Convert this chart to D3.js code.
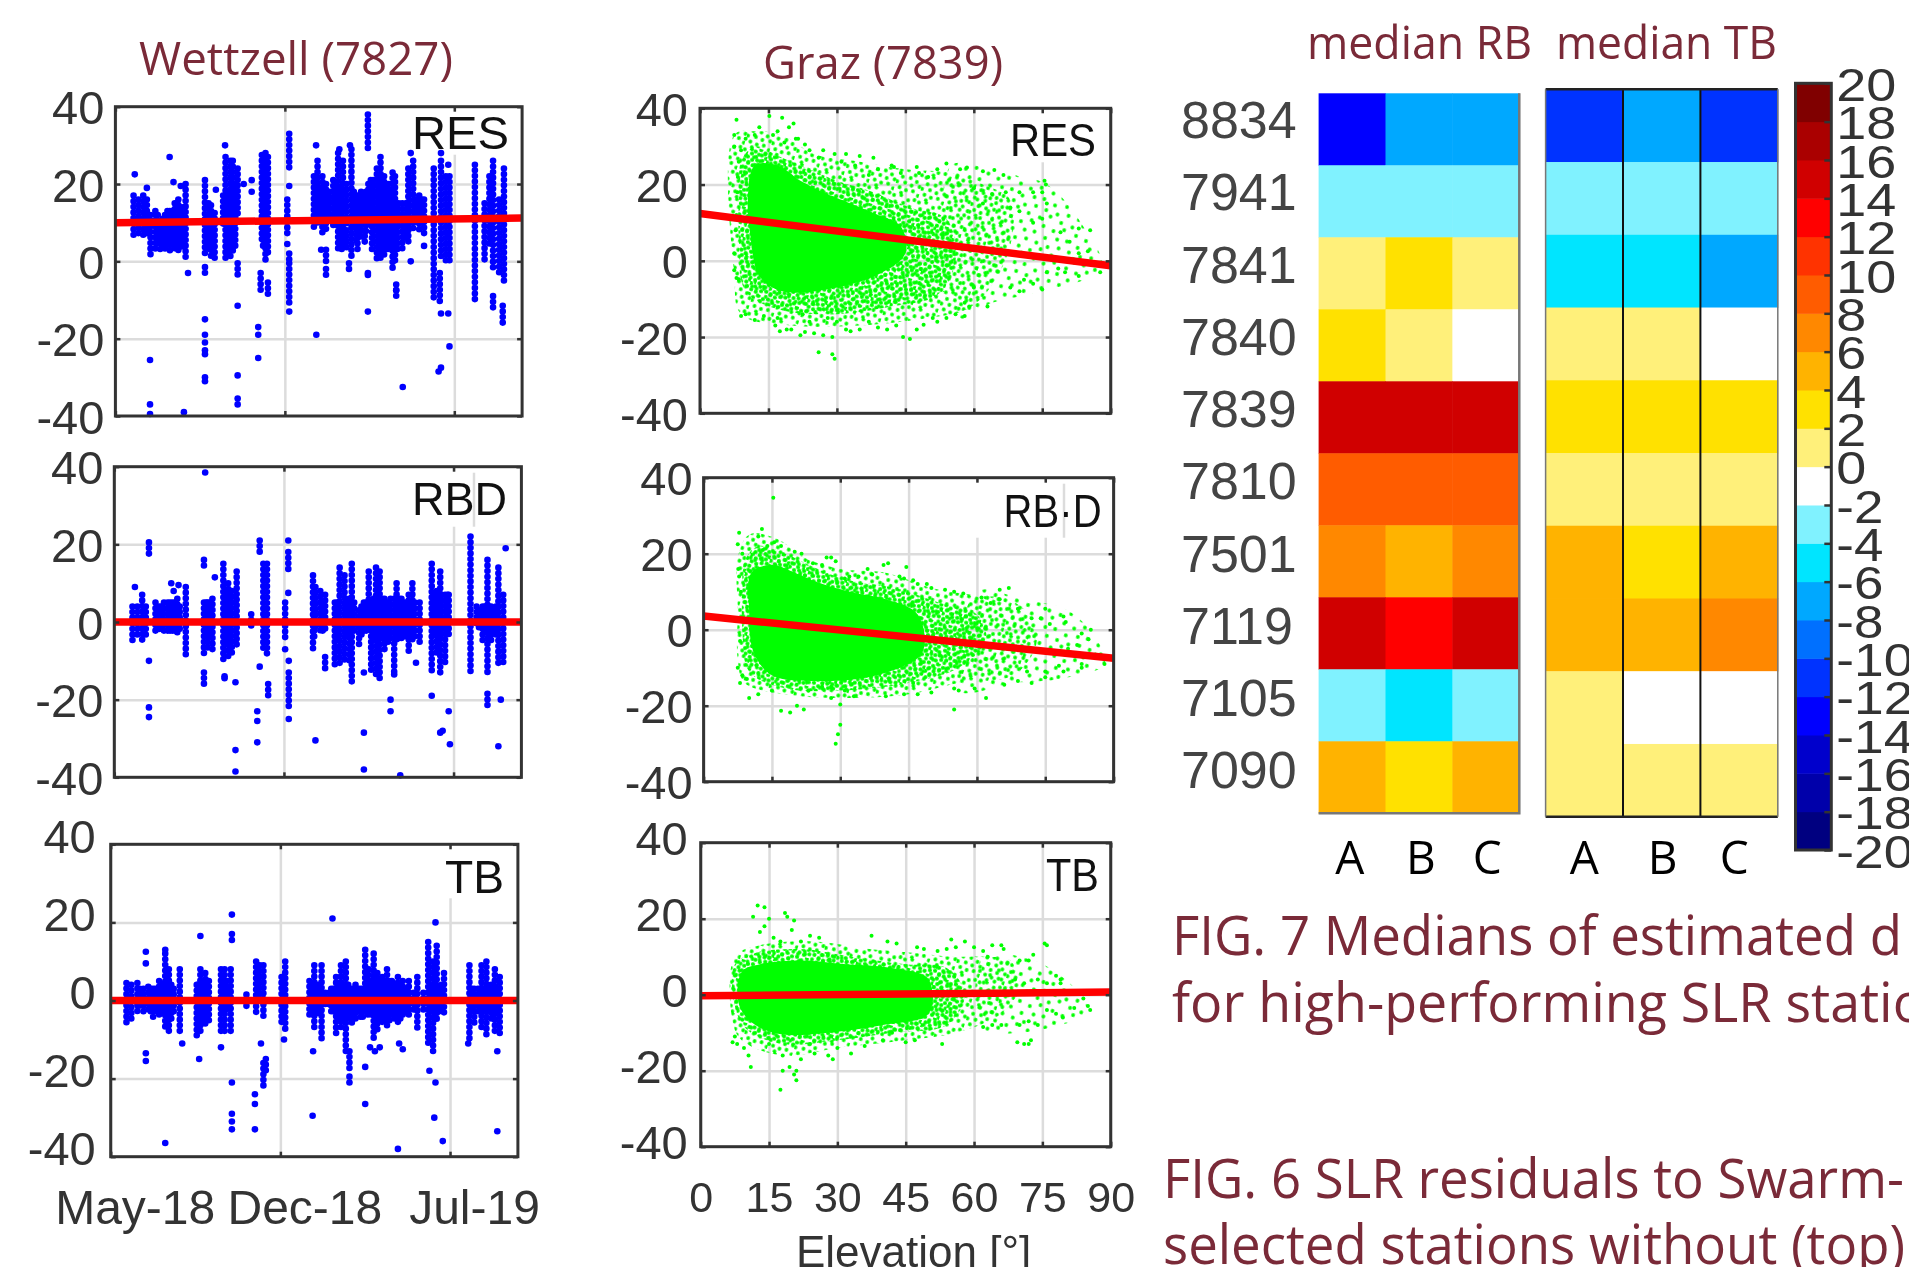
<!DOCTYPE html>
<html>
<head>
<meta charset="utf-8">
<script src="https://cdn.jsdelivr.net/npm/d3@7"></script>
<style>
  html, body { margin: 0; padding: 0; background: #fff; overflow: hidden; }
  svg { display: block; filter: blur(0.5px); }
</style>
</head>
<body>
<div id="chart"></div>
<script>
// values
const yTicks = [40, 20, 0, -20, -40];
const monthTicks = [0, 7, 14];
const monthLabels = ["May-18", "Dec-18", "Jul-19"];
const elevationTicks = [0, 15, 30, 45, 60, 75, 90];

// [month since May-18, low, high] columns of overlapping dots
const wettzellResStrands = [
  [0.75,6,17],[0.95,7,16],[1.15,6,17],[1.3,6,16],[1.45,1.5,12],[1.65,3,12],[1.85,3,9],[2.05,2,12],[2.25,2.5,13],
  [2.45,3,15],[2.6,2.5,16],[2.9,0,20],[3.0,-4,-3],[3.7,-4,-1.5],[3.7,2,21],[3.85,2,15],[3.95,0.5,14.5],[4.1,0.5,12.5],
  [4.45,9,17],[4.55,0.5,27],[4.75,1,26],[4.85,2,26],[5.05,11,24],[5.05,-4,-0.5],[6,-8,-3],[6.05,5,27.5],
  [6.2,0,28],[6.3,-9.5,-5.5],[6.3,1,27],[7.1,7,16],[7.18,24,33],[7.18,0,2],[7.18,-11,-0.5],[8.2,8,22],[8.35,9,26],
  [8.55,7,22],[8.7,7,20],[8.5,2,3],[8.7,-3.5,-2],[8.7,0,3],[9.0,8,21],[9.2,3,28],[9.4,4,26],[9.65,-2,-0.5],[9.75,1,29],
  [9.95,4,17],[10.15,5,18],[10.35,7,18],[10.43,29,38],[10.43,-4,-3],[10.55,8,21],[10.8,0,24],[10.95,0,27],[11.1,3,22],
  [11.3,3,20],[11.45,-2,23],[11.6,-9,-6],[11.55,0,22],[11.85,3,15],[12.2,-1,0],[12.1,5,24],[12.3,8,26],[12.55,8,17],
  [12.75,3,4],[12.75,6,16],[13.15,-10,24],[13.4,-11,-3],[13.45,0,26],[13.65,0,22],[13.8,-1,22],[14.85,-11,25],
  [15.25,0,15],[15.45,4,22],[15.6,-13,-9],[15.6,-2,26],[15.85,-4,16],[16.05,-5,24],[16.0,-17,-11.5],
  [1.75,4,12],[1.95,3,11],[2.15,3,13],[2.35,3,13],[2.55,3,15],[2.75,3,14],[3.8,4,12],[4.0,3,10],[4.65,2,18],[4.95,4,20],[6.1,3,20],
  [8.45,10,19],[8.85,10,18],[9.1,9,20],[9.3,9,19],[9.55,9,20],[9.85,9,18],[10.05,9,17],[10.25,9,17],[10.45,9,20],[10.65,9,21],
  [10.9,9,22],[11.2,9,20],[11.4,9,18],[11.7,9,15],[12,9,15],[12.4,10,16],[12.65,9,16],[10.0,3,9],[10.3,4,8],[10.9,1,9],[11.1,1,9],
  [9.35,3,9],[9.55,3,8],[10.6,2,9],[11.25,3,9],[11.65,2,9],[12.0,5,9]
];
const wettzellResPoints = [
  [1.43,-25.5],[1.43,-37],[1.43,-39.5],[2.83,-39],[3.7,-15],[3.7,-19],[3.7,-21],[3.7,-23],[3.7,-24],[3.7,-30],[3.7,-31],
  [5.05,-11.5],[5.05,-29.5],[5.05,-35.5],[5.05,-37],[5.9,-17],[5.9,-19],[5.9,-25],[8.3,-19],[11.87,-32.5],[13.45,-13.5],
  [13.75,-13.5],[13.8,-22],[13.45,-27.5],[13.35,-28.5],[2.24,27],[0.8,22.5],[5.63,21],[5.63,18],[1.65,13],[1.3,19],[4.53,30],
  [7.18,19.5],[7.1,4.5],[7.18,-13],[8.29,30],[10.43,-3.5],[10.43,-13],[12.2,28],[13.45,28],[13.75,25],[9.25,29],[9.69,30],[2.4,20.5],[2.7,19.5],[4.15,18.5],[5.3,20],[11.6,-7.5]
];
const wettzellRbdStrands = [
  [0.75,-6,4],[0.95,-4,4],[1.15,-5,7],[1.3,-4,4],[1.7,-3,5],[1.95,-3,4],[2.2,-3,5],[2.4,-3,5],[2.6,-3,6],[2.95,-9,9],
  [3.7,-9,5],[3.85,-7,5],[4.05,-7,6],[4.5,-10,15],[4.7,-9,10],[4.85,-8,8],[5.05,-6,13],[5.65,-2,2],[6.0,17,21],
  [6.15,-8,15],[6.3,-9,15],[6.35,-20,-16],[7.18,12.5,18],[7.05,0,5],[7.05,-5,-1],[7.2,-22,-13],[8.2,-7,12],[8.3,-2,9],
  [8.5,-3,8],[8.7,-13,-9],[8.7,-3,7],[9.1,-11,5],[9.3,-11,14],[9.5,-11,12],[9.8,-16,15],[9.7,-11,6],[10.1,-6,3],
  [10.3,-3,5],[10.5,-2,13],[10.6,-13,5],[10.8,-14,14],[10.95,-15,13],[11.15,-7,6],[11.3,-6,5],[11.55,-13,6],[11.65,-5,10],
  [11.95,-4,5],[12.15,-8,7],[12.3,-5,10],[12.6,-6,5],[13.1,-13,15],[13.3,-8,8],[13.45,-14,13],[13.65,-11,7],[13.8,-4,7],
  [14.7,-14,22],[14.95,-1,4],[15.2,-5,4],[15.4,-13,16],[15.55,-5,4],[15.85,-11,14],[16.05,-11,7],[15.4,-22,-18.5],
  [1.43,17,20.5],[3.7,14,16],[3.7,-16,-13],
  [1.85,-3,4],[2.05,-3,5],[2.3,-3,5],[2.5,-3,5],[2.7,-2,4],[3.8,-5,5],[3.95,-5,5],[4.6,-5,8],[8.25,-4,5],[8.6,-3,5],[9.2,-4,5],
  [9.6,-4,5],[9.9,-3,5],[10.2,-4,4],[10.4,-3,5],[10.7,-5,6],[10.9,-5,6],[11.05,-5,6],[11.2,-5,5],[11.4,-5,6],[11.6,-5,6],[11.75,-5,6],
  [11.85,-5,6],[12.05,-5,5],[12.25,-4,5],[12.4,-4,5],[13.2,-4,7],[13.5,-4,7],[13.75,-4,7],[15.05,-2,3],[15.3,-3,4],[15.65,-4,3],[15.75,-4,4]
];
const wettzellRbdPoints = [
  [3.75,38.5],[1.43,-10],[1.43,-22],[1.43,-24.5],[0.85,9],[4.55,-14.5],[4.55,-14],[5,-15.5],[5,-33],[5,-38.5],[5.9,-23],
  [5.9,-25.5],[5.9,-31],[6.0,-11.5],[8.3,-30.5],[7.2,-10],[7.2,-25],[7.05,-7],[7.18,21],[7.18,7.5],[10.3,-28.5],[10.3,-38],
  [11.4,-20],[11.4,-23],[11.8,-39.5],[11.55,-13.5],[13.1,-19],[13.45,-28.5],[13.55,-28],[13.8,-23],[13.85,-31.5],
  [15.95,-20],[15.85,-32],[16.15,19],[10.3,-13],[12.45,-10.5],[2.35,10],[2.45,8],[2.65,9.5],[4.15,11.5]
];
const wettzellTbStrands = [
  [0.65,-6,4.5],[0.85,-5,4],[1.1,-4,4.5],[1.55,-3,3.5],[1.75,-5,3],[2.0,-5,5],[2.25,-7,12],[2.4,-8,8],[2.5,-6,4],
  [2.85,-9,8],[2.95,-12,-11],[3.55,-9,4],[3.7,-8,8],[3.9,-7,7],[4.05,-6,5],[4.55,-8,8],[4.7,-8,8],[4.95,-9,8],
  [4.55,-13,-12],[5.6,-1.5,1.5],[6,-4,10],[6.15,-1,9],[6.3,-5,9],[6.2,-12,-11],[6.4,-19,-15],[6.3,-22,-16],[7.05,-6,6],
  [7.2,-8,10],[7.15,-11,-10],[8.2,-5,5],[8.4,-8,9],[8.7,-10,9],[9.1,-3,3],[9.3,-9,6],[9.5,-8,9],[9.7,-13,10],
  [9.85,-18,-13],[10.1,-6,4],[10.3,-5,3],[10.5,-4,13],[10.65,-4,8],[10.85,-10,12],[11.0,-8,7],[11.2,-6,6],[11.4,-7,8],
  [11.6,-5,5],[11.85,-6,6],[12.05,-5,5],[12.3,-5,5],[12.65,-8,6],[13.1,-12,15],[13.3,-14,10],[13.45,-6,14],[13.75,-4,7],
  [14.8,-11,9],[15,-6,3],[15.3,-7,9],[15.5,-10,10],[15.7,-5,4],[15.85,-8,8],[16.05,-9,6],
  [1.2,-2,3],[1.35,-3,3],[1.65,-3,3],[1.85,-3,3],[2.1,-4,4],[2.35,-4,4],[2.6,-4,3],[3.6,-5,4],[3.8,-6,5],[4.0,-5,5],[4.6,-3,6],[4.8,-3,5],
  [8.3,-4,4],[8.55,-4,4],[8.85,-2,2],[9.0,-2,2],[9.2,-4,3],[9.4,-5,4],[9.6,-5,4],[9.8,-6,4],[9.95,-6,3],[10.2,-4,3],[10.4,-5,3],[10.6,-5,5],
  [10.75,-5,5],[10.95,-6,6],[11.1,-6,5],[11.3,-6,5],[11.5,-6,5],[11.7,-5,4],[11.95,-5,4],[12.15,-4,3],[12.5,-3,2],[12.9,-3,2],[13.2,-4,3],
  [13.55,-4,3],[13.65,-3,4],[14.9,-4,3],[15.15,-4,3],[15.4,-4,3],[15.6,-4,3],[15.75,-4,3],[15.95,-4,3]
];
const wettzellTbPoints = [
  [1.45,12.5],[1.45,9.5],[1.45,-13.5],[1.45,-15.5],[2.25,13],[2.25,-36.5],[3.7,16.5],[3.65,-15],[5,22],[5,15.5],[5,17],
  [5,-21],[5,-29],[5,-31],[5,-33],[5.95,-24],[5.95,-26.5],[5.95,-33],[8.33,-29.5],[8.35,-13],[9.15,21],[9.85,-19.5],
  [9.85,-21],[10.5,-17],[10.5,-26.5],[11.85,-38],[13.15,-18],[13.4,-21],[13.35,-30],[13.4,20],[13.7,-36],[15.95,-33.5],
  [15.95,-13],[14.75,-11],[10.9,-13],[11.1,-12],[11.9,-11],[12.05,-12.5],[10.7,-12]
];

// [elevation, residual] outlines for the solid middle and the thinning rings of each cloud
const grazResCore = [[12,25],[17,25],[22,21],[27,18],[33,15],[39,12],[44,9],[45,2],[40,-3],[30,-7],[18,-8],[13,-4],[11,7],[10.5,16]];
const grazResDense = [[9,26],[12,30],[18,27],[24,24],[30,21],[38,18],[46,14],[54,11],[56,0],[52,-9],[42,-12],[30,-14],[18,-13],[10,-8],[8.5,6],[8.5,16]];
const grazResMid = [[7.5,33],[12,34],[18,33],[25,28],[35,26],[45,24],[55,23],[62,20],[68,16],[68,4],[63,-8],[58,-13],[50,-15],[35,-17],[20,-17],[9,-14],[7.5,-4]];
const grazResSparse = [[55,25],[66,23],[76,20],[84,9],[88,-2],[75,-8],[64,-11],[57,-15]];
const grazResPoints = [
  [8,37],[15.2,38],[18,37.5],[20.5,36],[7.5,33],[13,35],[17,34],[19.5,35],[21,32],[7.5,30],[10,32],[12,33],[16,33],[18.5,31],
  [21.5,32],[23,30.5],[9,29],[24,29],[27,29],[29.5,28],[32,28],[35,27.5],[38,27],[26,27],[31,26],[34,25],[42,25],[42.5,24.6],
  [47.5,24.6],[52,24],[54,25.5],[57,24],[58.5,24.5],[62,23.5],[64.5,23.8],[66.5,22.5],[48,23],[50,22],[44,23],[39,24],[37,22.5],
  [75.5,21],[75.8,20],[76,15],[64,17.5],[67,18],[70,18],[73,18],[75,18],[83,8.5],[85.5,8],[79,7.5],[81,5],[75,11],[73,10],[70,13],
  [68,14],[62,15],[60,19],[85,2.5],[83,2],[82,-0.5],[80,-3],[83,-4],[87.7,-3],[78.5,-2],[76,-3],[71,-5],[73,-6],[70,-8],[68,-7],
  [75,-7.5],[63,-12],[60,-7],[58,-11],[59,-12],[58,-14.5],[56,-14],[54,-15],[52,-16],[51,-15],[49,-16.8],[47.5,-18],[46,-20.5],
  [44.5,-20],[37,-16],[39,-17.5],[41,-18],[43,-17],[35,-18],[32,-18],[33,-18.5],[29,-20],[27,-19.5],[25,-19],[23,-18.7],[22,-19.5],
  [20,-18],[19,-18],[17.5,-18.5],[16.5,-17],[26,-24],[29,-24.5],[29.5,-25.7],[9,-14.5],[10,-14],[12,-15.5],[14,-14.5],[17,-15],
  [22.5,-14],[24,-16],[28,-15],[30,-16],[7.5,2],[7.5,-2.5],[8,-4.5],[8.5,-5],[7.8,8],[8,12],[8.2,18],[8.3,22],[8.5,26]
];
const grazRbdCore = [[10.5,15],[15,17],[20,15],[25,12.5],[32,10],[40,8],[47,4],[48,-6],[38,-12],[25,-13.5],[15,-12],[11,-6],[10,5]];
const grazRbdDense = [[9,18],[12,22],[18,20],[25,16],[32,13],[42,11],[52,7],[60,4],[62,-3],[56,-10],[45,-14],[30,-16],[18,-15.5],[10,-11],[8.5,0],[8.5,10]];
const grazRbdMid = [[7.5,19],[10,25],[16,24],[22,19],[30,16],[40,15],[50,11],[60,9],[67,8],[72,3],[73,-4],[68,-12],[56,-14],[45,-17],[30,-18],[18,-17],[9,-14],[7.5,-8],[7.5,5]];
const grazRbdSparse = [[60,10],[70,8],[80,5],[86,-2],[88,-9],[78,-13],[68,-14],[56,-16]];
const grazRbdPoints = [
  [15.3,34.7],[7.8,25.5],[12.8,26.5],[12,24.5],[15.5,23],[17,22],[7.5,22.5],[8.5,20],[13,21],[14,22],[20,20.5],[21.5,20],[27,19],
  [28,19],[29,18],[24,17.5],[26,17],[39.5,17],[40.5,17.5],[44.5,16.5],[36,16],[37,14.5],[34,14],[31,13.5],[32,14],[43,14],[44,13.5],
  [46,13],[47,12],[49,12],[50,11],[53,10.5],[55,10],[57,9.5],[61,8.5],[65,10.5],[67,11],[65,8],[63,7],[69,5.5],[75,5.5],[79,3.5],
  [79.5,2],[72,3],[74,3],[76,1.5],[85,0],[83,-1],[84.5,-2.5],[82,-4],[80,-5],[86,-6.5],[88,-9],[83,-10],[83,-9],[78,-9.5],[79,-11],
  [75,-12.5],[75,-11],[72,-14],[71,-11],[69,-13.5],[66,-14.5],[62,-18],[59.5,-15.5],[56,-16],[55,-15.5],[50,-16.5],[47,-17],[44,-17],
  [40,-17.5],[33,-17.5],[31,-16],[28,-15],[26,-15],[28,-18],[30,-19.7],[23,-16],[22,-21],[20.5,-20],[17,-21.3],[19,-21.8],[15,-16],
  [12,-17],[10,-18],[8,-14],[7.5,-10],[8.5,-12],[9.5,-13],[30,-25],[29.5,-27.5],[29,-30],[55,-21],[46,-14],[8,-3],[7.8,14],[7.6,16],[8.2,10]
];
const grazTbCore = [[9,6],[13,8],[22,9],[32,8],[42,7],[50,4],[50,-5],[40,-8],[28,-10],[18,-10.5],[12,-8],[8.5,-3]];
const grazTbDense = [[7.5,8],[12,11],[22,12],[33,10],[45,8],[54,7],[58,0],[54,-8],[42,-10],[30,-12],[18,-13],[10,-9],[7.5,-3]];
const grazTbMid = [[7.5,10],[13,13],[25,14],[37,12],[47,11],[55,10],[63,10],[68,9],[70,2],[66,-5],[56,-10],[45,-12],[30,-14],[18,-16],[9,-12],[7,-7]];
const grazTbSparse = [[62,10],[73,9],[79,5],[84,-1],[85,-5],[79,-8],[70,-10],[62,-9]];
const grazTbPoints = [
  [12.5,23.5],[14,23],[11.5,20.5],[15,20],[14,18],[13,16.5],[18.5,21.5],[19,20.5],[20.5,19.5],[20,17],[16,15],[17.5,14],[24,15.5],[26,15],
  [22,14],[37.5,15.5],[43,13.5],[41,14],[47.5,12.5],[49,12],[55,14.5],[58,14],[60,12.5],[62,11.5],[64,13],[66,13],[66.5,12],[75.5,13.5],
  [76,13],[73,10.5],[72,9],[70,9],[63,10],[52,11.5],[54,12],[56,12.5],[78,5],[79,4],[79,3],[76,3],[74,4],[71,3],[69,4],[84,-1],[85,-3],
  [85.5,-4],[82,-3.5],[79.5,-6],[78,-5],[76,-4],[72,-7],[74,-8],[70,-8],[69.5,-12.5],[71,-13],[72,-13],[72.5,-12],[66,-8],[64,-8],[62,-8.5],
  [53,-13],[47,-12],[45,-12.5],[36,-13.5],[33,-15.5],[29,-17],[28,-16],[25,-15.5],[22,-17],[21,-20],[20.5,-21],[19.5,-19],[18,-20],[17.5,-25],
  [21,-22.5],[11,-19],[10.5,-16],[9.5,-14],[7.5,-11],[7,-12.5],[8,-13],[15,-13],[18,-16],[24,-13],[30,-14],[40,-12],[42,-10]
];

// fitted lines: value at the left and right end of the axis
const wettzellResFit = [10, 11.2];
const wettzellRbdFit = [0, 0];
const wettzellTbFit = [0, 0];
const grazResFit = [12.4, -1.3];
const grazRbdFit = [3.6, -7.5];
const grazTbFit = [-0.3, 0.7];

// median tables
const stations = ["8834", "7941", "7841", "7840", "7839", "7810", "7501", "7119", "7105", "7090"];
const columns = ["A", "B", "C"];
const medianRB = [
  [-13,-7,-7],[-3,-3,-3],[1,3,1],[3,1,-1],[15,15,15],[9,9,9],[7,5,7],[15,13,15],[-3,-5,-3],[5,3,5]
];
const medianTB = [
  [-11,-7,-11],[-3,-3,-3],[-5,-5,-7],[1,1,-1],[3,3,3],[1,1,1],[5,3,5],[5,5,7],[1,-1,-1],[1,1,1]
];
const colorTicks = d3.range(20, -21, -2);
const colorSteps = ["#000080","#0000aa","#0000cc","#0000ff","#0033ff","#0070ff","#00a8ff","#00e5ff","#80f2ff","#ffffff",
  "#fff07a","#ffe100","#ffb300","#ff8800","#ff5c00","#ff3300","#ff0000","#d00000","#aa0000","#800000"];

const maroon = "#7a2a38";
const tickGray = "#333";
const sansText = "'Liberation Sans', Arial, sans-serif";
const captionFont = "'Open Sans', 'Noto Sans', sans-serif";

const svg = d3.select("#chart").append("svg")
  .attr("width", 1909)
  .attr("height", 1267);

// stipple tiles for the parts of the clouds where single dots can no longer be told apart
const defs = svg.append("defs");
const denseTile = [[2,2],[7,4],[12,1],[17,3],[4,7],[9,9],[14,6],[19,8],[1,11],[6,13],[11,12],[16,11],[3,17],[8,18],[13,16],[18,15]];
const midTile = [[2,3],[9,1],[17,4],[23,2],[5,9],[13,8],[20,10],[1,15],[9,14],[16,15],[24,14],[5,20],[12,21],[19,20],[25,23],[8,25]];
const sparseTile = [[4,6],[14,2],[26,5],[10,13],[21,15],[31,11],[3,21],[15,24],[27,22],[8,31],[20,32],[31,30]];
function addTile(id, size, dots, radius) {
  const p = defs.append("pattern")
    .attr("id", id)
    .attr("width", size)
    .attr("height", size)
    .attr("patternUnits", "userSpaceOnUse")
    .attr("patternTransform", "rotate(17)");
  p.selectAll("circle").data(dots).enter().append("circle")
    .attr("cx", d => d[0])
    .attr("cy", d => d[1])
    .attr("r", radius)
    .attr("fill", "#00ff00");
}
addTile("stippleDense", 20, denseTile, 2.1);
addTile("stippleMid", 26, midTile, 1.9);
addTile("stippleSparse", 34, sparseTile, 1.9);

function drawPanel(box, xScale, xTicks, fit, label, drawMarks) {
  const y = d3.scaleLinear().domain([-40, 40]).range([box.bottom, box.top]);
  const g = svg.append("g");
  const w = box.right - box.left;
  const h = box.bottom - box.top;

  const grid = g.append("g").attr("class", "grid");
  grid.append("g")
    .attr("transform", `translate(0,${box.bottom})`)
    .call(d3.axisBottom(xScale).tickValues(xTicks).tickSize(-h).tickFormat(""));
  grid.append("g")
    .attr("transform", `translate(${box.left},0)`)
    .call(d3.axisLeft(y).tickValues([20, 0, -20]).tickSize(-w).tickFormat(""));
  grid.selectAll(".domain").remove();
  grid.selectAll("line").attr("stroke", "#dcdcdc").attr("stroke-width", 2.5);

  // white patch under the pasted label hides the grid there
  g.append("rect")
    .attr("x", box.maskX)
    .attr("y", box.top + 4)
    .attr("width", box.maskW)
    .attr("height", box.maskH)
    .attr("fill", "#fff");
  if (box.ghostX) {
    g.append("line")
      .attr("x1", box.ghostX).attr("x2", box.ghostX)
      .attr("y1", box.top + 6).attr("y2", box.top + 4 + box.maskH)
      .attr("stroke", "#dcdcdc").attr("stroke-width", 2.5);
  }

  drawMarks(g, y);

  const domain = xScale.domain();
  g.append("path")
    .datum([[domain[0], fit[0]], [domain[1], fit[1]]])
    .attr("d", d3.line().x(d => xScale(d[0])).y(d => y(d[1])))
    .attr("fill", "none")
    .attr("stroke", "#ff0000")
    .attr("stroke-width", 7.5);

  // inward ticks on all four sides
  const ticks = g.append("g").attr("class", "ticks");
  ticks.append("g").attr("transform", `translate(0,${box.bottom})`)
    .call(d3.axisBottom(xScale).tickValues(xTicks).tickSize(-5).tickFormat(""));
  ticks.append("g").attr("transform", `translate(0,${box.top})`)
    .call(d3.axisTop(xScale).tickValues(xTicks).tickSize(-5).tickFormat(""));
  ticks.append("g").attr("transform", `translate(${box.left},0)`)
    .call(d3.axisLeft(y).tickValues(yTicks).tickSize(-5).tickFormat(""));
  ticks.append("g").attr("transform", `translate(${box.right},0)`)
    .call(d3.axisRight(y).tickValues(yTicks).tickSize(-5).tickFormat(""));
  ticks.selectAll(".domain").remove();
  ticks.selectAll("line").attr("stroke", "#333").attr("stroke-width", 2.5);

  g.append("rect")
    .attr("x", box.left)
    .attr("y", box.top)
    .attr("width", w)
    .attr("height", h)
    .attr("fill", "none")
    .attr("stroke", "#333")
    .attr("stroke-width", 3);

  const yAxis = g.append("g")
    .attr("transform", `translate(${box.left - box.labelGap},${box.labelShift})`)
    .call(d3.axisLeft(y).tickValues(yTicks).tickSize(0).tickPadding(0).tickFormat(d => d));
  yAxis.select(".domain").remove();
  yAxis.selectAll("text")
    .style("font-family", sansText)
    .style("font-size", "47px")
    .attr("fill", tickGray);

  g.append("text")
    .attr("x", label.x)
    .attr("y", label.y)
    .attr("textLength", label.len)
    .attr("lengthAdjust", "spacingAndGlyphs")
    .style("font-family", sansText)
    .style("font-size", "46px")
    .attr("fill", "#111")
    .text(label.text);
}

function timePanel(box, strands, points, fit, label) {
  const x = d3.scaleLinear().domain([0, 16.8]).range([box.left, box.right]);
  drawPanel(box, x, monthTicks, fit, label, (g, y) => {
    g.append("g").selectAll("line").data(strands).enter().append("line")
      .attr("x1", d => x(d[0]))
      .attr("x2", d => x(d[0]))
      .attr("y1", d => y(d[2]))
      .attr("y2", d => y(d[1]))
      .attr("stroke", "#0000ff")
      .attr("stroke-width", 6.6)
      .attr("stroke-linecap", "round")
      .attr("stroke-dasharray", "0 5.6");
    g.append("g").selectAll("circle").data(points).enter().append("circle")
      .attr("cx", d => x(d[0]))
      .attr("cy", d => y(d[1]))
      .attr("r", 3.3)
      .attr("fill", "#0000ff");
  });
  return x;
}

function elevationPanel(box, core, dense, mid, sparse, points, fit, label) {
  const x = d3.scaleLinear().domain([0, 90]).range([box.left, box.right]);
  drawPanel(box, x, elevationTicks, fit, label, (g, y) => {
    const outline = d3.line().x(d => x(d[0])).y(d => y(d[1])).curve(d3.curveCatmullRomClosed);
    g.append("path").attr("d", outline(sparse)).attr("fill", "url(#stippleSparse)");
    g.append("path").attr("d", outline(mid)).attr("fill", "url(#stippleMid)");
    g.append("path").attr("d", outline(dense)).attr("fill", "url(#stippleDense)");
    g.append("path").attr("d", outline(core)).attr("fill", "#00ff00");
    g.append("g").selectAll("circle").data(points).enter().append("circle")
      .attr("cx", d => x(d[0]))
      .attr("cy", d => y(d[1]))
      .attr("r", 2)
      .attr("fill", "#00ff00");
  });
  return x;
}

timePanel({ left: 115.4, right: 522.1, top: 106.7, bottom: 416, labelGap: 11, labelShift: 2, maskX: 411, maskW: 100, maskH: 44 },
  wettzellResStrands, wettzellResPoints, wettzellResFit, { text: "RES", x: 412, y: 149, len: 97 });
timePanel({ left: 114.3, right: 521.4, top: 466.7, bottom: 777.3, labelGap: 11, labelShift: 2, maskX: 411, maskW: 64, maskH: 56, ghostX: 474 },
  wettzellRbdStrands, wettzellRbdPoints, wettzellRbdFit, { text: "RBD", x: 412, y: 515, len: 95 });
const timeX = timePanel({ left: 110.7, right: 517.9, top: 844.3, bottom: 1156.7, labelGap: 15, labelShift: -7, maskX: 443, maskW: 62, maskH: 50 },
  wettzellTbStrands, wettzellTbPoints, wettzellTbFit, { text: "TB", x: 445, y: 893, len: 59 });

elevationPanel({ left: 700, right: 1110.7, top: 108.3, bottom: 413.3, labelGap: 12, labelShift: 2, maskX: 1005, maskW: 95, maskH: 50 },
  grazResCore, grazResDense, grazResMid, grazResSparse, grazResPoints, grazResFit, { text: "RES", x: 1010, y: 155.7, len: 86 });
elevationPanel({ left: 703.6, right: 1113.6, top: 477.7, bottom: 781.7, labelGap: 11, labelShift: 2, maskX: 975, maskW: 89, maskH: 56, ghostX: 1064 },
  grazRbdCore, grazRbdDense, grazRbdMid, grazRbdSparse, grazRbdPoints, grazRbdFit, { text: "RB·D", x: 1003.6, y: 527, len: 98 });
const elevationX = elevationPanel({ left: 700.7, right: 1110.7, top: 842.7, bottom: 1146.7, labelGap: 13, labelShift: -3, maskX: 1045, maskW: 56, maskH: 46 },
  grazTbCore, grazTbDense, grazTbMid, grazTbSparse, grazTbPoints, grazTbFit, { text: "TB", x: 1046, y: 890.7, len: 53 });

// bottom axes
const timeAxis = svg.append("g")
  .attr("transform", "translate(24,1224)")
  .call(d3.axisBottom(timeX).tickValues(monthTicks).tickSize(0).tickPadding(0).tickFormat((d, i) => monthLabels[i]));
timeAxis.select(".domain").remove();
timeAxis.selectAll("text")
  .attr("y", 0).attr("dy", 0)
  .style("font-family", sansText)
  .style("font-size", "48px")
  .attr("fill", tickGray);

const elevAxis = svg.append("g")
  .attr("transform", "translate(0,1211.7)")
  .call(d3.axisBottom(elevationX).tickValues(elevationTicks).tickSize(0).tickPadding(0).tickFormat(d => d));
elevAxis.select(".domain").remove();
elevAxis.selectAll("text")
  .attr("y", 0).attr("dy", 0)
  .style("font-family", sansText)
  .style("font-size", "43px")
  .attr("fill", tickGray);

svg.append("text")
  .attr("x", 796)
  .attr("y", 1267)
  .style("font-family", sansText)
  .style("font-size", "44px")
  .attr("fill", tickGray)
  .text("Elevation [°]");

function caption(str, x, y, size, len) {
  svg.append("text")
    .attr("x", x)
    .attr("y", y)
    .attr("textLength", len)
    .attr("lengthAdjust", "spacingAndGlyphs")
    .style("font-family", captionFont)
    .style("font-size", size + "px")
    .attr("fill", maroon)
    .text(str);
}
caption("Wettzell (7827)", 139, 75, 46, 314);
caption("Graz (7839)", 763, 79, 46, 240);
caption("median RB", 1307, 59, 46, 225);
caption("median TB", 1556, 59, 46, 221);
caption("FIG. 7 Medians of estimated d", 1172, 955, 54, 730);
caption("for high-performing SLR statio", 1172, 1021.7, 54, 753);
caption("FIG. 6 SLR residuals to Swarm-", 1163, 1198, 54, 741);
caption("selected stations without (top)", 1163, 1264, 54, 742);

// heat maps
const color = d3.scaleQuantize().domain([-20, 20]).range(colorSteps);

function heatmap(matrix, box) {
  const x = d3.scaleBand().domain(columns).range([box.left, box.right]);
  const y = d3.scaleBand().domain(stations).range([box.top, box.bottom]);
  const g = svg.append("g");
  stations.forEach((s, i) => {
    g.selectAll(`rect.row${i}`).data(matrix[i]).enter().append("rect")
      .attr("x", (d, j) => x(columns[j]))
      .attr("y", y(s))
      .attr("width", x.bandwidth() + 0.5)
      .attr("height", y.bandwidth() + 0.5)
      .attr("fill", d => color(d));
  });
  if (box.lines) {
    g.selectAll("line.col").data(columns.slice(1)).enter().append("line")
      .attr("x1", d => x(d)).attr("x2", d => x(d))
      .attr("y1", box.top).attr("y2", box.bottom)
      .attr("stroke", "#111").attr("stroke-width", 2);
    g.selectAll("line.edge").data([box.top, box.bottom]).enter().append("line")
      .attr("x1", box.left).attr("x2", box.right)
      .attr("y1", d => d).attr("y2", d => d)
      .attr("stroke", "#222").attr("stroke-width", 2.5);
    g.selectAll("line.side").data([box.left, box.right]).enter().append("line")
      .attr("x1", d => d).attr("x2", d => d)
      .attr("y1", box.top).attr("y2", box.bottom)
      .attr("stroke", "#777").attr("stroke-width", 1.5);
  } else {
    g.append("path")
      .attr("d", `M${box.right},${box.top}V${box.bottom}H${box.left}`)
      .attr("fill", "none")
      .attr("stroke", "#777")
      .attr("stroke-width", 2.5);
  }
  g.selectAll("text").data(box.labelX).enter().append("text")
    .attr("x", d => d)
    .attr("y", 874)
    .attr("text-anchor", "middle")
    .style("font-family", captionFont)
    .style("font-size", "46px")
    .attr("fill", "#000")
    .text((d, i) => columns[i]);
}
heatmap(medianRB, { left: 1318.6, right: 1519.3, top: 93.3, bottom: 813.3, lines: false, labelX: [1349.7, 1420.9, 1487.3] });
heatmap(medianTB, { left: 1545.6, right: 1777.8, top: 89.3, bottom: 816.7, lines: true, labelX: [1584.3, 1662.6, 1734.3] });

const rowLabels = d3.scalePoint().domain(stations).range([138, 788.3]);
svg.append("g").selectAll("text").data(stations).enter().append("text")
  .attr("x", 1181)
  .attr("y", d => rowLabels(d))
  .style("font-family", sansText)
  .style("font-size", "52px")
  .attr("fill", "#444")
  .text(d => d);

// colour bar
const barLeft = 1795.5;
const barRight = 1831.3;
const barY = d3.scaleLinear().domain([-20, 20]).range([850, 83.3]);
svg.append("g").selectAll("rect").data(colorSteps).enter().append("rect")
  .attr("x", barLeft)
  .attr("y", (d, i) => barY(-18 + i * 2))
  .attr("width", barRight - barLeft)
  .attr("height", (d, i) => barY(-20 + i * 2) - barY(-18 + i * 2) + 0.5)
  .attr("fill", d => d);
svg.append("rect")
  .attr("x", barLeft)
  .attr("y", barY(20))
  .attr("width", barRight - barLeft)
  .attr("height", barY(-20) - barY(20))
  .attr("fill", "none")
  .attr("stroke", "#333")
  .attr("stroke-width", 3);
const barTicks = svg.append("g")
  .attr("transform", `translate(${barRight},0)`)
  .call(d3.axisLeft(barY).tickValues(colorTicks).tickSize(-0).tickFormat(""));
barTicks.select(".domain").remove();
barTicks.selectAll("line").attr("x2", -7).attr("stroke", "#333").attr("stroke-width", 2.5);
const barAxis = svg.append("g")
  .attr("transform", `translate(${barRight + 5},2.5)`)
  .call(d3.axisRight(barY).tickValues(colorTicks).tickSize(0).tickPadding(0).tickFormat(d => d));
barAxis.select(".domain").remove();
barAxis.selectAll("text")
  .attr("textLength", d => (d < 0 ? 17 : 0) + String(Math.abs(d)).length * 30)
  .attr("lengthAdjust", "spacingAndGlyphs")
  .style("font-family", sansText)
  .style("font-size", "46px")
  .attr("fill", tickGray);
</script>
</body>
</html>
